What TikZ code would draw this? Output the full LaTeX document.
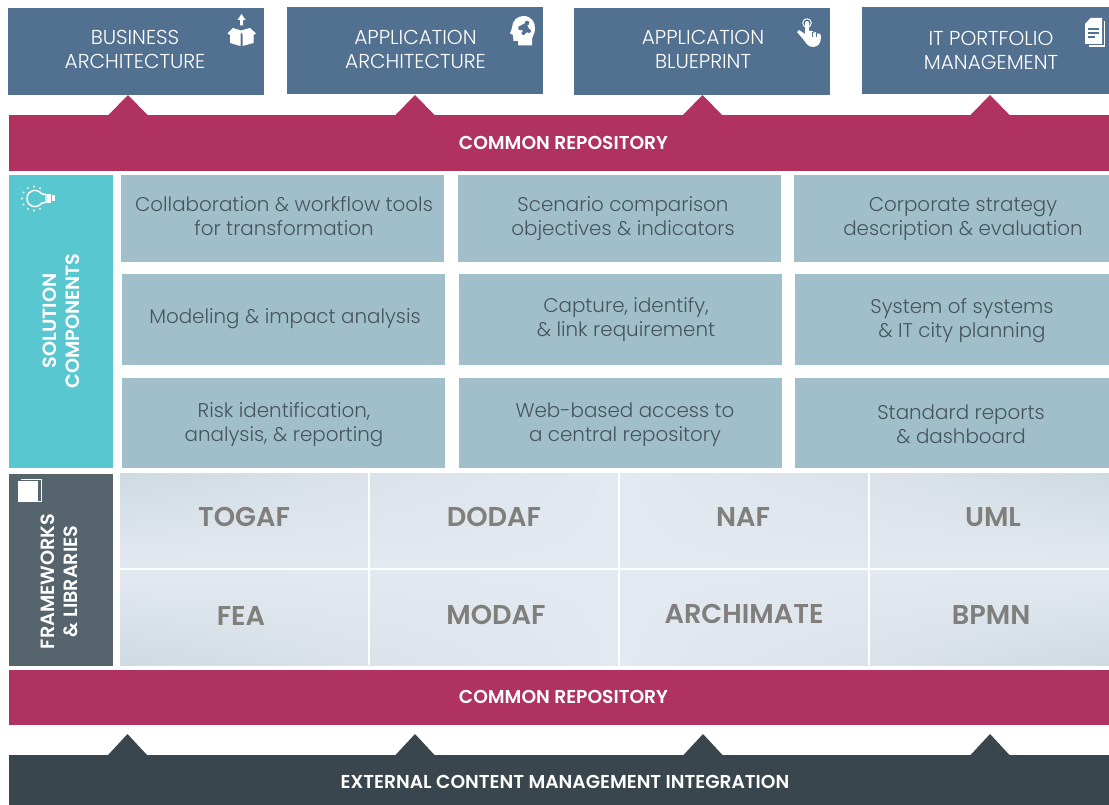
\documentclass[tikz,border=0pt]{standalone}
\usetikzlibrary{shadings}
\usepackage{fontspec}
\setmainfont{Poppins}
\newfontfamily\lightf{Poppins Light}
\newfontfamily\semif{Poppins SemiBold}
\definecolor{band}{HTML}{B03260}
\definecolor{topbox}{HTML}{527090}
\definecolor{teal}{HTML}{59C7D0}
\definecolor{cellc}{HTML}{A0BFCB}
\definecolor{frame}{HTML}{56646E}
\definecolor{darkb}{HTML}{3A464E}
\definecolor{celltext}{HTML}{46555F}
\definecolor{greyt}{HTML}{807F7C}
\definecolor{gridl}{HTML}{E3E9F1}
\definecolor{gridd}{HTML}{CFDAE2}
\definecolor{gridm}{HTML}{DBE2EA}
\tikzset{
  x=0.75pt,y=-0.75pt,
  topnode/.style={text=white,align=center,font=\lightf\fontsize{15.1}{18}\selectfont},
  bandtext/.style={text=white,font=\semif\fontsize{14}{15}\selectfont},
  celltxt/.style={text=celltext,align=center,font=\lightf\fontsize{14.9}{18}\selectfont},
  gridtxt/.style={text=greyt,font=\semif\fontsize{20.4}{24}\selectfont},
  sidetxt/.style={text=white,align=center,rotate=90,font=\semif\fontsize{14.4}{17.5}\selectfont},
  ico/.style={fill=white,draw=none},
}
% name, x0, y0, x1, y1, fill
\newcommand{\bx}[6]{\path[fill=#6] (#2,#3) rectangle (#4,#5);\coordinate (#1) at ({(#2+#4)/2},{(#3+#5)/2});}
\newcommand{\upT}[4]{\fill[#4] (#1-19.5,#3) -- (#1,#2) -- (#1+19.5,#3) -- cycle;}
% grid cell: x0 y0 x1 y1 and corner colours ul ur ll lr
\newcommand{\gc}[8]{\shade[upper left=#5,upper right=#6,lower left=#7,lower right=#8] (#1,#2) rectangle (#3,#4);}
\begin{document}
\begin{tikzpicture}
\useasboundingbox (0,0) rectangle (1109,805);
\fill[white] (0,0) rectangle (1109,805);
% top boxes
\bx{t1}{8}{8}{264}{95}{topbox}
\bx{t2}{287}{7}{543}{94}{topbox}
\bx{t3}{574}{8}{830}{95}{topbox}
\bx{t4}{862}{7}{1109}{94}{topbox}
\node[topnode] (lt1) at (135,49.5) {BUSINESS\\ARCHITECTURE};
\node[topnode] (lt2) at (415.5,49.5) {APPLICATION\\ARCHITECTURE};
\node[topnode] (lt3) at (703,49.5) {APPLICATION\\BLUEPRINT};
\node[topnode] (lt4) at (991,50) {IT PORTFOLIO\\MANAGEMENT};
% top band
\upT{128}{95}{115}{band}\upT{415}{95}{115}{band}\upT{702.5}{95}{115}{band}\upT{990}{95}{115}{band}
\bx{r1}{9}{115}{1109}{171}{band}
\node[bandtext] (lr1) at (563.5,143) {COMMON REPOSITORY};
% solution components
\bx{s}{9}{175}{113}{468}{teal}
\node[sidetxt] (ls) at (61.5,321) {SOLUTION\\COMPONENTS};
\bx{c11}{121}{175}{444}{262}{cellc}
\bx{c12}{458}{175}{781}{262}{cellc}
\bx{c13}{794}{175}{1109}{262}{cellc}
\bx{c21}{122}{274}{445}{365}{cellc}
\bx{c22}{459}{274}{782}{365}{cellc}
\bx{c23}{795}{274}{1109}{365}{cellc}
\bx{c31}{122}{378}{445}{468}{cellc}
\bx{c32}{459}{378}{782}{468}{cellc}
\bx{c33}{795}{378}{1109}{468}{cellc}
\node[celltxt] (l11) at (284,216) {Collaboration \& workflow tools\\for transformation};
\node[celltxt] (l12) at (623,219) {Scenario comparison\\objectives \& indicators};
\node[celltxt] (l13) at (963,219) {Corporate strategy\\description \& evaluation};
\node[celltxt] (l21) at (285,319) {Modeling \& impact analysis};
\node[celltxt] (l22) at (626,320) {Capture, identify,\\\& link requirement};
\node[celltxt] (l23) at (962,321) {System of systems\\\& IT city planning};
\node[celltxt] (l31) at (284,425) {Risk identification,\\analysis, \& reporting};
\node[celltxt] (l32) at (625,425) {Web-based access to\\a central repository};
\node[celltxt] (l33) at (961,424.5) {Standard reports\\\& dashboard};
% frameworks
\bx{f}{9}{474}{113}{666}{frame}
\node[sidetxt] (lf) at (59.5,581.5) {FRAMEWORKS\\\& LIBRARIES};
\gc{120}{473}{369}{569}{gridd}{gridm}{gridl}{gridl}
\gc{369}{473}{619}{569}{gridm}{gridl}{gridl}{gridl}
\gc{619}{473}{869}{569}{gridl}{gridm}{gridl}{gridl}
\gc{869}{473}{1109}{569}{gridm}{gridd}{gridl}{gridl}
\gc{120}{569}{369}{665}{gridl}{gridl}{gridd}{gridm}
\gc{369}{569}{619}{665}{gridl}{gridl}{gridm}{gridl}
\gc{619}{569}{869}{665}{gridl}{gridl}{gridl}{gridm}
\gc{869}{569}{1109}{665}{gridl}{gridl}{gridm}{gridd}
\draw[white,line width=1.5pt] (369,473) -- (369,665) (619,473) -- (619,665) (869,473) -- (869,665) (120,569) -- (1109,569);
\node[gridtxt] (g1) at (244,517) {TOGAF};
\node[gridtxt] (g2) at (494,517) {DODAF};
\node[gridtxt] (g3) at (743,517) {NAF};
\node[gridtxt] (g4) at (993,517) {UML};
\node[gridtxt] (g5) at (241,616) {FEA};
\node[gridtxt] (g6) at (496,615) {MODAF};
\node[gridtxt] (g7) at (744,614) {ARCHIMATE};
\node[gridtxt] (g8) at (991,615) {BPMN};
% bottom bands
\bx{r2}{9}{670}{1109}{725}{band}
\node[bandtext] (lr2) at (563.5,697) {COMMON REPOSITORY};
\upT{127.5}{734}{755}{darkb}\upT{415}{734}{755}{darkb}\upT{703}{734}{755}{darkb}\upT{990}{734}{755}{darkb}
\bx{e}{9}{755}{1109}{805}{darkb}
\node[bandtext] (le) at (565,782) {EXTERNAL CONTENT MANAGEMENT INTEGRATION};
% --- icons ---
% box
\fill[ico] (241.5,14) -- (245.5,20) -- (243,20) -- (243,25.5) -- (240,25.5) -- (240,20) -- (237.5,20) -- cycle;
\fill[ico] (227.5,33.5) -- (233,28) -- (241,30.5) -- (250,28) -- (256,33.5) -- (253.5,35) -- (253.5,43) -- (242.5,46) -- (242.5,34.5) -- (241.5,32) -- (240.5,34.5) -- (240.5,46) -- (230,43) -- (230,35) -- cycle;
% head
\fill[ico] (523.5,16) .. controls (531,16) and (535.5,22) .. (535,29) .. controls (535,34) and (532,36) .. (532,39) -- (532,45.5) -- (518,45.5) -- (518,41) -- (513.5,41) -- (513,35) -- (510,33.5) -- (512,28) .. controls (512,21) and (517,16) .. (523.5,16) -- cycle;
\fill[topbox] (520.5,28) circle (2.3) (527,23) circle (2.3) (529,31) circle (2) (523.5,33) circle (2) (520.5,25.5) -- (526,23) -- (530,31) -- (524,34) -- cycle;
% hand
\draw[white,line width=0.7pt] (807,23) circle (4.3);
\fill[ico] (805,23) .. controls (805,20.5) and (809,20.5) .. (809,23) -- (809,31) -- (813,31) -- (813,33) -- (816,32) -- (816,34) -- (818,33.5) .. controls (820,33) and (821,34) .. (821,37) .. controls (821,43) and (818,47) .. (813,47) .. controls (808,47) and (806,43) .. (803,39) -- (797,32) -- (799,30) -- (805,34) -- cycle;
\draw[topbox,line width=0.6pt] (812.7,32) -- (812.7,37) (816,33) -- (816,37);
% document
\fill[ico] (1090.5,18) -- (1102,18) -- (1102,44) -- (1085,44) -- (1085,24) -- cycle;
\draw[white,line width=1pt] (1104.5,21) -- (1104.5,46) -- (1089,46);
\draw[topbox,line width=0.8pt] (1088,29) -- (1099,29) (1088,33) -- (1099,33) (1088,37) -- (1095,37);
% bulb
\draw[white,line width=1.1pt] (46,194.5) -- (42,194) .. controls (37,188) and (27,189.5) .. (27,198.5) .. controls (27,207.5) and (37,209) .. (42,203) -- (46,202.5) -- cycle;
\fill[ico] (47,194) rectangle (51,203);
\fill[ico] (51.5,195.5) rectangle (54.5,201.5);
\foreach \a in {60,90,120,150,180,210,240,270,300} {\fill[white] (34,198.5)+(\a:12) circle (1.1);}
% book
\fill[ico] (17.5,481) rectangle (37.5,502);
\draw[white,line width=0.6pt] (21,479) -- (41,479) -- (41,501.5) -- (38,501.5);
\end{tikzpicture}
\end{document}
